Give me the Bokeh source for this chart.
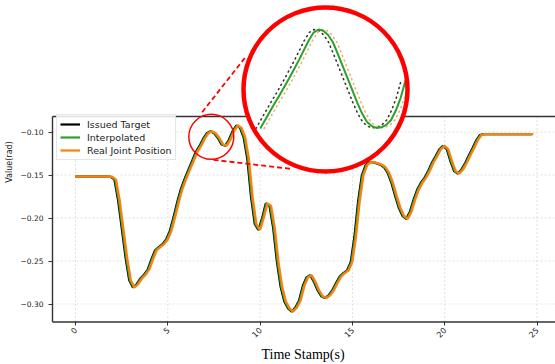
from math import pi
from bokeh.plotting import figure
from bokeh.models import (Range1d, FixedTicker, CustomJSTickFormatter, Legend,
                          LegendItem)
from bokeh.embed import file_html
from bokeh.resources import INLINE

# ---------------- data ----------------
step = 0.2
joint_values = [
    -0.152, -0.152, -0.152, -0.152, -0.152, -0.152, -0.152, -0.152, -0.152, -0.152,
    -0.1522, -0.1555, -0.180, -0.213, -0.246, -0.2725, -0.2808, -0.2770, -0.2705, -0.2660,
    -0.2600, -0.2480, -0.2375, -0.2338, -0.2305, -0.2250, -0.2150, -0.1990, -0.1814, -0.1660,
    -0.1545, -0.1440, -0.1340, -0.1233, -0.1165, -0.1080, -0.1015, -0.0992, -0.1015, -0.1070,
    -0.1145, -0.1158, -0.1090, -0.0990, -0.0925, -0.0952, -0.1065, -0.1320, -0.1760, -0.2070,
    -0.2140, -0.2000, -0.1830, -0.1860, -0.2120, -0.2510, -0.2800, -0.2970, -0.3050, -0.3088,
    -0.3040, -0.2960, -0.2790, -0.2690, -0.2666, -0.2740, -0.2840, -0.2910, -0.2930, -0.2900,
    -0.2840, -0.2755, -0.2680, -0.2640, -0.2610, -0.2510, -0.2215, -0.1805, -0.1505, -0.1387,
    -0.1350, -0.1352, -0.1365, -0.1380, -0.1410, -0.1475, -0.1590, -0.1740, -0.1880, -0.1975,
    -0.2010, -0.1930, -0.1790, -0.1670, -0.1590, -0.1530, -0.1450, -0.1355, -0.1280, -0.1200,
    -0.1160, -0.1200, -0.1340, -0.1455, -0.1483, -0.1435, -0.1360, -0.1270, -0.1185, -0.1095,
    -0.1035, -0.1025, -0.1025, -0.1025, -0.1025, -0.1025, -0.1025, -0.1025, -0.1025, -0.1025,
    -0.1025, -0.1025, -0.1025, -0.1025, -0.1025,
]
time_stamps = [round(i * step, 2) for i in range(len(joint_values))]
lead_issued = 0.09       # issued target leads the real position (s)
lead_interp = 0.05       # interpolated leads the real position (s)

# zoomed inset (values read from the magnified view)
inset_step = 0.05
inset_start = 6.92
inset_values = [
    -0.1163, -0.1149, -0.1135, -0.1121, -0.1108, -0.1094, -0.1080, -0.1065, -0.1050, -0.1034,
    -0.1018, -0.1005, -0.1000, -0.1002, -0.1009, -0.1021, -0.1040, -0.1060, -0.1080, -0.1100,
    -0.1120, -0.1138, -0.1152, -0.1159, -0.1162, -0.1161, -0.1157, -0.1149, -0.1133, -0.1112,
    -0.1083,
]
inset_time = [round(inset_start + i * inset_step, 3) for i in range(len(inset_values))]
inset_lead_issued = 0.045
inset_lag_real = 0.04

x_ticks = [0, 5, 10, 15, 20, 25]
y_ticks = [-0.30, -0.25, -0.20, -0.15, -0.10]
series_names = ["Issued Target", "Interpolated", "Real Joint Position"]
series_colors = ["#000000", "#2ca02c", "#ff7f0e"]

t_issued = [max(0.0, t - lead_issued) for t in time_stamps]
t_interp = [max(0.0, t - lead_interp) for t in time_stamps]
t_real = time_stamps
ti_issued = [t - inset_lead_issued for t in inset_time]
ti_real = [t + inset_lag_real for t in inset_time]

# ---------------- layout constants ----------------
X_LEFT, X_RIGHT = -1.246, 26.2          # spine positions (data)
Y_BOT, Y_TOP = -0.3209, -0.082

p = figure(width=555, height=364, output_backend="svg", toolbar_location=None,
           x_range=Range1d(-1.3543, 26.002), y_range=Range1d(-0.32267, 0.05291),
           min_border_left=50, min_border_right=0, min_border_top=0,
           min_border_bottom=41)
p.outline_line_color = None
p.xgrid.grid_line_color = None
p.ygrid.grid_line_color = None
p.background_fill_color = "white"
p.border_fill_color = "white"

p.extra_x_ranges = {"ix": Range1d(4.7552, 9.9668)}
p.extra_y_ranges = {"iy": Range1d(-0.14840, -0.095226)}

# axes
for ax in (p.xaxis, p.yaxis):
    ax.axis_line_color = None
    ax.major_tick_line_color = "#333333"
    ax.major_tick_in = 2
    ax.major_tick_out = 2
    ax.minor_tick_line_color = None
    ax.major_label_text_font = "DejaVu Sans"
    ax.major_label_text_font_size = "7.5px"
    ax.major_label_text_color = "#222222"
p.xaxis.major_label_text_font_size = "8px"
p.xaxis.ticker = FixedTicker(ticks=x_ticks)
p.yaxis.ticker = FixedTicker(ticks=y_ticks)
p.yaxis.formatter = CustomJSTickFormatter(code="return tick.toFixed(2).replace('-', '\u2212');")
p.xaxis.major_label_orientation = pi / 4
p.xaxis.major_label_standoff = 3
p.yaxis.major_label_standoff = 5
p.xaxis.axis_label = "Time Stamp(s)"
p.xaxis.axis_label_text_font = "Liberation Serif"
p.xaxis.axis_label_text_font_size = "14px"
p.xaxis.axis_label_text_font_style = "normal"
p.xaxis.axis_label_text_color = "#000000"
p.xaxis.axis_label_standoff = 3
p.yaxis.axis_label = "Value(rad)"
p.yaxis.axis_label_text_font = "DejaVu Sans"
p.yaxis.axis_label_text_font_size = "8px"
p.yaxis.axis_label_text_font_style = "normal"
p.yaxis.axis_label_text_color = "#222222"
p.yaxis.axis_label_standoff = 4

# grid (dotted, only inside the axes box)
p.segment(x0=x_ticks, y0=[Y_BOT] * len(x_ticks), x1=x_ticks, y1=[Y_TOP] * len(x_ticks),
          line_color="#d9d9d9", line_width=0.8, line_dash="2 2")
p.segment(x0=[X_LEFT] * len(y_ticks), y0=y_ticks, x1=[X_RIGHT] * len(y_ticks), y1=y_ticks,
          line_color="#d9d9d9", line_width=0.8, line_dash="2 2")

# spines
p.line([X_LEFT, X_LEFT], [Y_BOT, Y_TOP], line_color="#333333", line_width=1.4)
p.line([X_LEFT, X_RIGHT], [Y_BOT, Y_BOT], line_color="#333333", line_width=1.4)
p.line([X_LEFT, X_RIGHT], [Y_TOP, Y_TOP], line_color="#333333", line_width=1.4)

# main series
r_issued = p.line(t_issued, joint_values, line_color=series_colors[0], line_width=2.2)
r_interp = p.line(t_interp, joint_values, line_color=series_colors[1], line_width=2.2)
r_real = p.line(t_real, joint_values, line_color=series_colors[2], line_width=2.2)

# zoom marker + connectors
p.scatter([7.356], [-0.1056], marker="circle", size=45, fill_color=None,
          line_color="#ff0000", line_width=1.5)
p.segment(x0=[6.861, 7.476], y0=[-0.07698, -0.13233], x1=[9.206, 11.647], y1=[-0.01302, -0.14279],
          line_color="#ff0000", line_width=1.8, line_dash="5 3")

# big magnifier
MAG_X, MAG_Y = 13.5426, -0.05058
p.scatter([MAG_X], [MAG_Y], marker="circle", size=164, fill_color="white",
          line_color=None)
p.line(ti_issued, inset_values, x_range_name="ix", y_range_name="iy",
       line_color="#333333", line_width=1.6, line_dash="1 4", line_cap="round")
p.line(ti_real, inset_values, x_range_name="ix", y_range_name="iy",
       line_color="#f4a261", line_width=1.6, line_dash="1 4", line_cap="round", line_alpha=0.9)
p.line(inset_time, inset_values, x_range_name="ix", y_range_name="iy",
       line_color=series_colors[1], line_width=2.0)
p.scatter([MAG_X], [MAG_Y], marker="circle", size=164, fill_color=None,
          line_color="#ff0000", line_width=4.5)

legend = Legend(items=[LegendItem(label=series_names[0], renderers=[r_issued]),
                       LegendItem(label=series_names[1], renderers=[r_interp]),
                       LegendItem(label=series_names[2], renderers=[r_real])],
                location=(6, 163), margin=0, padding=3, spacing=1,
                label_height=12, glyph_height=12, glyph_width=20, label_standoff=7,
                label_text_font="DejaVu Sans", label_text_font_size="9.5px",
                label_text_color="#222222", border_line_color="#cccccc",
                border_line_width=1, background_fill_alpha=0.85)
p.add_layout(legend)

open("out.html", "w").write(file_html(p, INLINE))
